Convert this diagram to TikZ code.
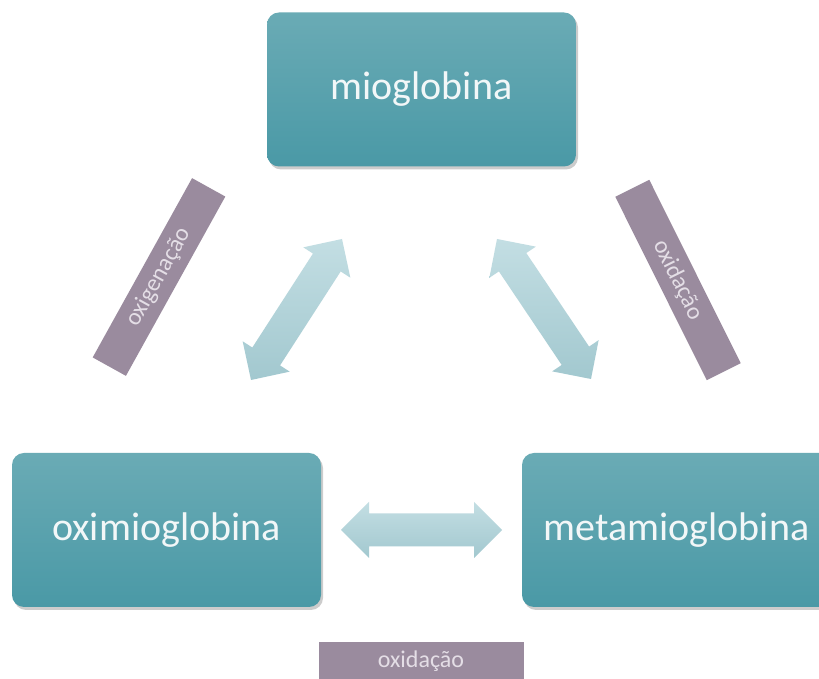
\documentclass[tikz,border=0pt]{standalone}
\usepackage{fontspec}
\setmainfont{Carlito}
\usetikzlibrary{calc,shadows}
\definecolor{boxtop}{HTML}{6AABB5}
\definecolor{boxbot}{HTML}{4A99A6}
\definecolor{lab}{HTML}{9A8B9E}
\definecolor{labtext}{HTML}{E4DEE6}
\definecolor{arrtop}{HTML}{C3DEE3}
\definecolor{arrbot}{HTML}{A2C8CF}
\definecolor{boxtext}{HTML}{F2F7F8}
\tikzset{
  statebox/.style={rectangle, rounded corners=12pt, minimum width=309pt, minimum height=154pt,
    top color=boxtop, bottom color=boxbot, text=boxtext, inner sep=0pt,
    font=\fontsize{40}{48}\selectfont,
    drop shadow={shadow xshift=2pt, shadow yshift=-3pt, opacity=0.2, fill=black}},
  labelbox/.style={rectangle, fill=lab, text=labtext, minimum width=205pt, minimum height=38pt,
    inner sep=0pt, font=\fontsize{24}{28}\selectfont},
  arrowfill/.style={top color=arrtop, bottom color=arrbot}
}
\newcommand\blockarr[2]{%
  \path (#1) coordinate (A) (#2) coordinate (B)
    ($(A)!28pt!(B)$) coordinate (A1)
    ($(B)!28pt!(A)$) coordinate (B1);
  \shade[arrowfill] (A) -- ($(A1)!28pt!90:(B)$) -- ($(A1)!16.5pt!90:(B)$)
    -- ($(B1)!16.5pt!-90:(A)$) -- ($(B1)!28pt!-90:(A)$) -- (B)
    -- ($(B1)!28pt!90:(A)$) -- ($(B1)!16.5pt!90:(A)$)
    -- ($(A1)!16.5pt!-90:(B)$) -- ($(A1)!28pt!-90:(B)$) -- cycle;}
\begin{document}
\begin{tikzpicture}[x=1pt,y=1pt]
\useasboundingbox (0,0) rectangle (819,679);
\fill[white] (0,0) rectangle (819,679);
\node[statebox] (mio) at (421.5,589.5) {mioglobina};
\node[statebox] (oxi) at (166.5,149) {oximioglobina};
\node[statebox] (meta) at (676.5,149) {metamioglobina};
\node[labelbox, rotate=61] (lo) at (159,402) {oxigenação};
\node[labelbox, rotate=-63.5] (lr) at (678,399) {oxidação};
\node[labelbox] (lb) at (421,18) {oxidação};
\coordinate (a1) at (251,299);
\coordinate (a2) at (342,440);
\coordinate (b1) at (497,440);
\coordinate (b2) at (591,300);
\coordinate (c1) at (341,149);
\coordinate (c2) at (502,149);
\blockarr{a1}{a2}
\blockarr{b1}{b2}
\blockarr{c1}{c2}
\end{tikzpicture}
\end{document}
